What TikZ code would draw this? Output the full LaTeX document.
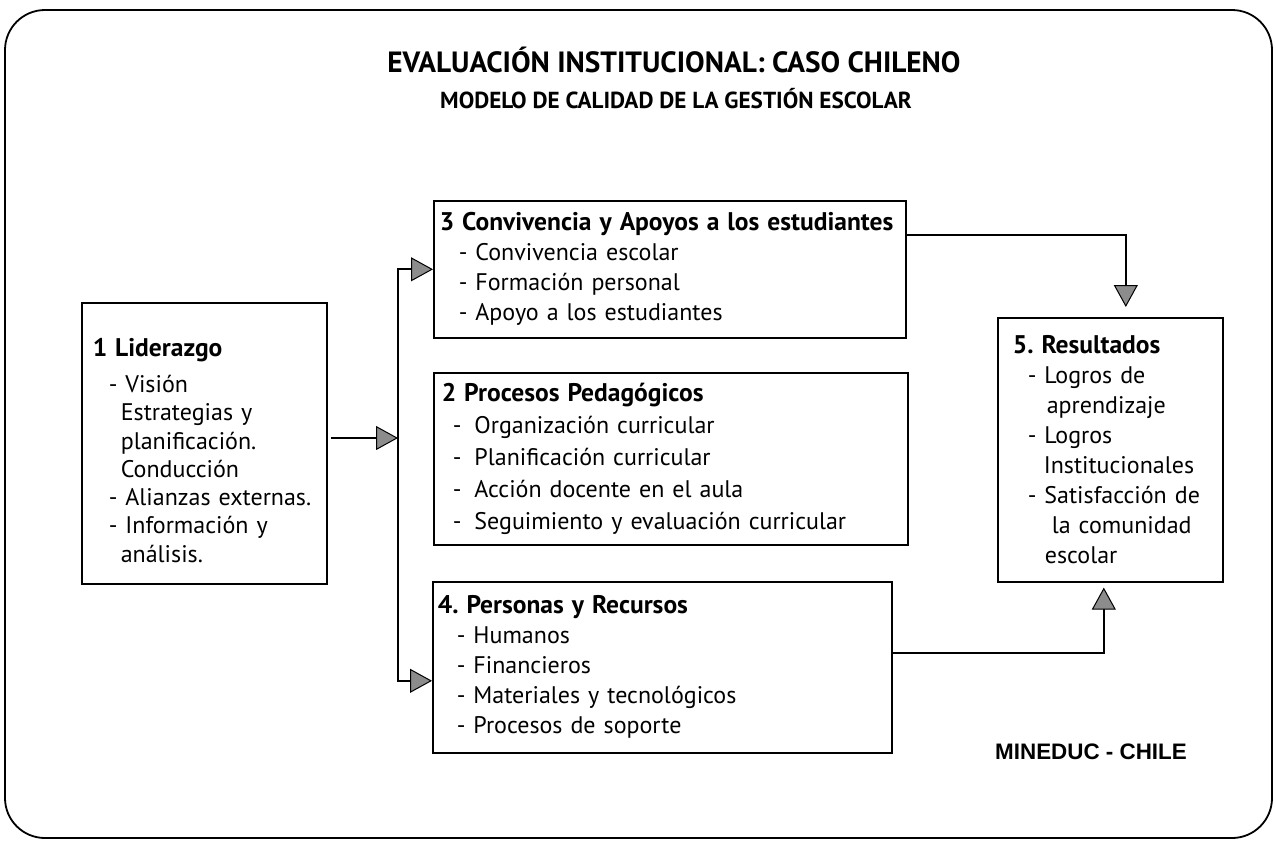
\documentclass[tikz,border=0pt]{standalone}
\usepackage{fontspec}
\setmainfont{PT Sans}
\newfontfamily\arialfont{Liberation Sans}
\usetikzlibrary{arrows.meta,positioning}
\frenchspacing
\newcommand{\tit}[1]{\mbox{\fontsize{25.5}{30}\bfseries #1}}

\begin{document}
\begin{tikzpicture}[x=1pt,y=1pt]
                    \tikzstyle{every node}+=[inner sep=0pt]
                    \tikzstyle{caja}=[draw=black, line width=1.6pt, anchor=north west, align=left, inner ysep=0pt]
                    \tikzstyle{punta}=[-{Triangle[length=22pt,width=24pt,line width=1pt,fill=gray!90]}]
                    \useasboundingbox (0,0) rectangle (1276,-844);
                    \draw [black, line width=1.8pt, rounded corners=40pt] (5,-10) rectangle (1272,-838);
                    \node [anchor=base, font=\fontsize{29.3}{32}\bfseries] (titulo) at (674,-72) {EVALUACIÓN INSTITUCIONAL: CASO CHILENO};
                    \node [anchor=base, font=\fontsize{23.2}{26}\bfseries] (subtitulo) at (676,-108) {MODELO DE CALIDAD DE LA GESTIÓN ESCOLAR};
                    \node [caja, inner xsep=11pt, text width=223pt, minimum width=245pt, minimum height=281pt, font=\fontsize{24}{28.3}\selectfont] (lider) at (81,-302) {\rule{0pt}{32pt}\tit{1 Liderazgo}\\[8pt]
                        \hspace*{16pt}- Visión\\
                        \hspace*{28pt}Estrategias y\\
                        \hspace*{28pt}planificación.\\
                        \hspace*{28pt}Conducción\\
                        \hspace*{16pt}- Alianzas externas.\\
                        \hspace*{16pt}- Información y\\
                        \hspace*{28pt}análisis.};
                    \node [caja, inner xsep=6pt, text width=460pt, minimum width=472pt, minimum height=137pt, font=\fontsize{24}{30}\selectfont] (convivencia) at (433,-200) {\tit{3 Convivencia y Apoyos a los estudiantes}\\
                        \hspace*{19pt}- Convivencia escolar\\
                        \hspace*{19pt}- Formación personal\\
                        \hspace*{19pt}- Apoyo a los estudiantes};
                    \node [caja, inner xsep=8pt, text width=458pt, minimum width=474pt, minimum height=172pt, font=\fontsize{24}{32}\selectfont] (procesos) at (433,-372) {\tit{2 Procesos Pedagógicos}\\
                        \hspace*{11pt}-\hspace{13pt}Organización curricular\\
                        \hspace*{11pt}-\hspace{13pt}Planificación curricular\\
                        \hspace*{11pt}-\hspace{13pt}Acción docente en el aula\\
                        \hspace*{11pt}-\hspace{13pt}Seguimiento y evaluación curricular};
                    \node [caja, inner xsep=5pt, text width=449pt, minimum width=459pt, minimum height=171pt, font=\fontsize{24}{30}\selectfont] (personas) at (432,-581) {\tit{4. Personas y Recursos}\\
                        \hspace*{19pt}- Humanos\\
                        \hspace*{19pt}- Financieros\\
                        \hspace*{19pt}- Materiales y tecnológicos\\
                        \hspace*{19pt}- Procesos de soporte};
                    \node [caja, inner xsep=15pt, text width=195pt, minimum width=225pt, minimum height=264pt, font=\fontsize{24}{30}\selectfont] (resultados) at (997,-317) {\tit{5. Resultados}\\
                        \hspace*{15pt}- Logros de\\
                        \hspace*{34pt}aprendizaje\\
                        \hspace*{15pt}- Logros\\
                        \hspace*{31pt}Institucionales\\
                        \hspace*{15pt}- Satisfacción de\\
                        \hspace*{39pt}la comunidad\\
                        \hspace*{32pt}escolar};
                    \node [anchor=base, font=\arialfont\fontsize{22.4}{24}\bfseries] (mineduc) at (1091,-759) {MINEDUC - CHILE};
                    \coordinate (espina) at (398,-438);
                    \draw [black, line width=2.4pt, punta, shorten <=3pt] (lider.east |- espina) -- (espina);
                    \draw [black, line width=2.2pt, {Triangle[length=22pt,width=24pt,line width=1pt,fill=gray!90]}-{Triangle[length=22pt,width=24pt,line width=1pt,fill=gray!90]}] (convivencia.west) -| (espina) |- ([yshift=-13.5pt]personas.west);
                    \draw [black, line width=1.5pt, punta, shorten >=10pt] ([yshift=-35pt]convivencia.north east) -| ([xshift=15.5pt]resultados.north);
                    \draw [black, line width=1.5pt, punta, shorten >=5pt] ([yshift=14.5pt]personas.east) -| ([xshift=-6.5pt]resultados.south);
                \end{tikzpicture}
\end{document}
